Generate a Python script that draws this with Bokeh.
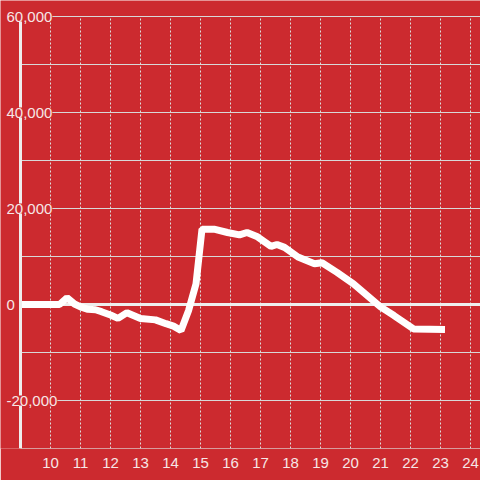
from bokeh.plotting import figure
from bokeh.models import FixedTicker
from bokeh.core.properties import value
from bokeh.embed import file_html
from bokeh.resources import INLINE

# data (hour of day, value)
hours = [9.0, 10.3, 10.55, 10.8, 11.0, 11.25, 11.5, 11.7, 12.0, 12.25, 12.55, 13.0, 13.5,
         13.85, 14.1, 14.35, 14.6, 14.85, 15.05, 15.45, 15.9, 16.3, 16.55, 16.9, 17.35,
         17.55, 17.8, 18.25, 18.8, 19.05, 19.55, 20.1, 20.55, 21.0, 21.45, 22.1, 23.15]
values = [0, 0, 1400, 100, -500, -1000, -1100, -1500, -2200, -2900, -1700, -2900, -3200,
          -4000, -4500, -5400, -1300, 4300, 15700, 15700, 15000, 14500, 15000, 14100, 12100,
          12500, 11900, 9900, 8500, 8700, 6700, 4300, 1900, -500, -2300, -5100, -5200]

x_ticks = [10, 11, 12, 13, 14, 15, 16, 17, 18, 19, 20, 21, 22, 23, 24]
y_grid_ticks = [-30000, -20000, -10000, 10000, 20000, 30000, 40000, 50000, 60000]
y_label_ticks = [-20000, 0, 20000, 40000, 60000]
y_labels = ["-20,000", "0", "20,000", "40,000", "60,000"]

X0, X1 = 9, 24 + 1 / 3          # axis start / end (hours)
Y0, Y1 = -30000, 60000          # value axis span

BG = "#cc2a2f"
TXT = "#f6e6e6"
FONT = "Liberation Sans"

PX_PER_H = 30.0
PX_PER_V = 96.0 / 20000
x_start = X0 - 20 / PX_PER_H
y_end = Y1 + 16 / PX_PER_V

p = figure(width=480, height=480, output_backend="svg", toolbar_location=None,
           x_range=(x_start, X1), y_range=(Y0, y_end),
           y_axis_location=None,
           min_border_left=0, min_border_right=0, min_border_top=0, min_border_bottom=32)
p.background_fill_color = BG
p.border_fill_color = BG
p.outline_line_color = None
p.xgrid.visible = False
p.ygrid.visible = False

# x axis
p.xaxis.ticker = FixedTicker(ticks=x_ticks)
p.xaxis.axis_line_color = None
p.xaxis.major_tick_line_color = None
p.xaxis.minor_tick_line_color = None
p.xaxis.major_label_text_color = TXT
p.xaxis.major_label_text_font = FONT
p.xaxis.major_label_text_font_size = "15px"
p.xaxis.major_label_standoff = 3

# vertical dotted grid
p.segment(x0=x_ticks, x1=x_ticks, y0=[Y0] * len(x_ticks), y1=[Y1] * len(x_ticks),
          line_color="#dddddd", line_width=1, line_dash="2 2")
# horizontal grid
p.segment(x0=[X0] * len(y_grid_ticks), x1=[X1] * len(y_grid_ticks),
          y0=y_grid_ticks, y1=y_grid_ticks, line_color="#d8d8d8", line_width=1)
# zero line
p.segment(x0=[X0], x1=[X1], y0=[0], y1=[0], line_color="#eeeeee", line_width=3)

# data line
p.line(hours, values, line_color="white", line_width=7)

# y axis line
p.segment(x0=[X0], x1=[X0], y0=[Y0], y1=[Y1], line_color="#eeeeee", line_width=3)

# y tick labels with background
p.text(x=[x_start] * len(y_label_ticks), y=y_label_ticks, text=y_labels,
       x_offset=6, text_align="left", text_baseline="middle",
       text_color=TXT, text_font=value(FONT), text_font_size="15px",
       background_fill_color=BG)

open("out.html", "w").write(file_html(p, INLINE))
